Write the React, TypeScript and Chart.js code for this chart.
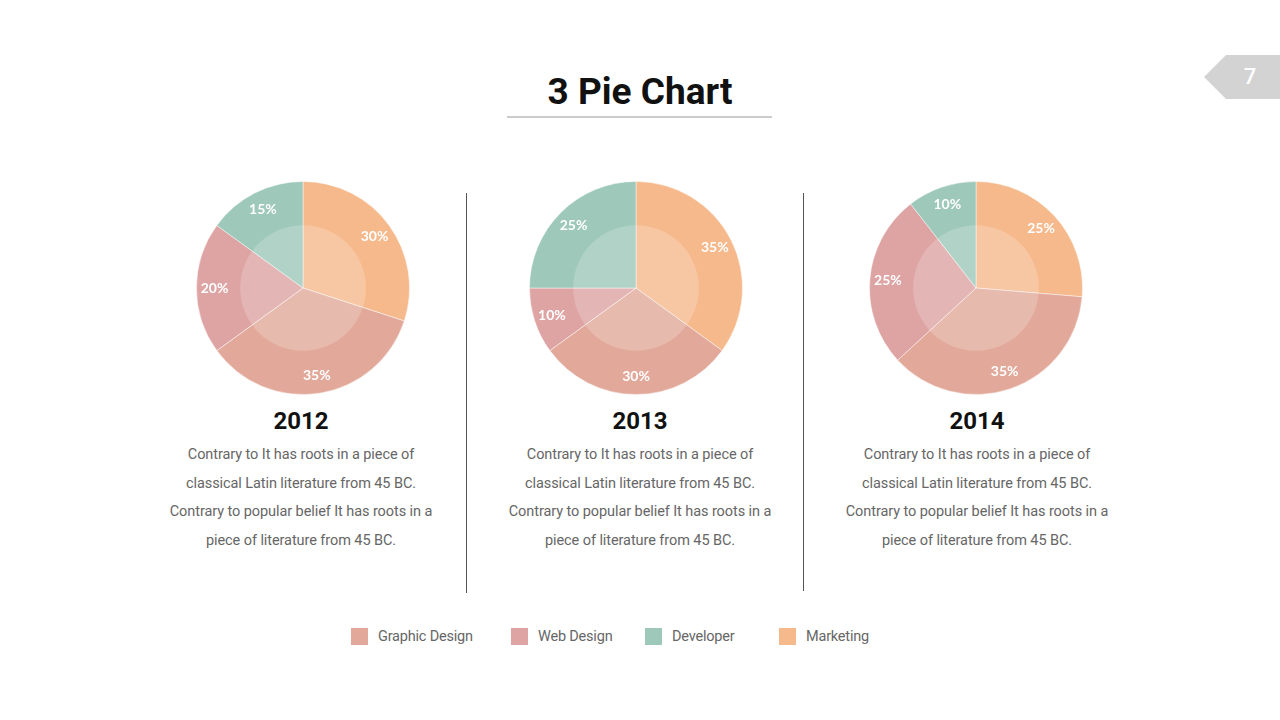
import React, { useEffect, useRef } from "react";
import { Chart, registerables } from "chart.js";

Chart.register(...registerables);

const categories = ["Marketing", "Graphic Design", "Web Design", "Developer"];
const colors = ["#F6B98C", "#E2A99A", "#DEA3A3", "#9EC8B9"];
const years = ["2012", "2013", "2014"];
const values2012 = [30, 35, 20, 15];
const values2013 = [35, 30, 10, 25];
const values2014 = [25, 35, 25, 10];
const seriesValues = [values2012, values2013, values2014];
const legendOrder = ["Graphic Design", "Web Design", "Developer", "Marketing"];
const descriptionLines = [
  "Contrary to It has roots in a piece of",
  "classical Latin literature from 45 BC.",
  "Contrary to popular belief It has roots in a",
  "piece of literature from 45 BC.",
];

const overlayPlugin = {
  id: "overlayAndLabels",
  afterDatasetsDraw(chart: any) {
    const ctx = chart.ctx;
    const meta = chart.getDatasetMeta(0);
    if (!meta.data.length) return;
    const arc0: any = meta.data[0];
    const cx = arc0.x;
    const cy = arc0.y;
    const r = arc0.outerRadius;
    ctx.save();
    ctx.beginPath();
    ctx.arc(cx, cy, r * 0.59, 0, Math.PI * 2);
    ctx.fillStyle = "rgba(255,255,255,0.2)";
    ctx.fill();
    ctx.fillStyle = "#ffffff";
    ctx.font = "bold 14px Lato, 'Open Sans', sans-serif";
    ctx.textAlign = "center";
    ctx.textBaseline = "middle";
    const data = chart.data.datasets[0].data;
    meta.data.forEach((arc: any, i: number) => {
      const mid = (arc.startAngle + arc.endAngle) / 2;
      const rr = r * 0.83;
      ctx.fillText(data[i] + "%", cx + Math.cos(mid) * rr, cy + Math.sin(mid) * rr);
    });
    ctx.restore();
  },
};

function PieChart({ values }: { values: number[] }) {
  const ref = useRef<HTMLCanvasElement>(null);
  useEffect(() => {
    if (!ref.current) return;
    const chart = new Chart(ref.current, {
      type: "pie",
      data: {
        labels: categories,
        datasets: [
          {
            data: values,
            backgroundColor: colors,
            borderColor: "rgba(255,255,255,0.45)",
            borderWidth: 1,
          },
        ],
      },
      options: {
        animation: false,
        responsive: false,
        maintainAspectRatio: false,
        layout: { padding: 0 },
        plugins: { legend: { display: false }, tooltip: { enabled: false } },
      },
      plugins: [overlayPlugin],
    });
    return () => chart.destroy();
  }, [values]);
  return <canvas ref={ref} width={214} height={214} style={{ width: 214, height: 214 }} />;
}

const pieCenters = [303, 635.5, 975.5];
const textCenters = [301, 640, 977];

export default function App() {
  return (
    <div
      style={{
        position: "absolute",
        left: 0,
        top: 0,
        width: 1280,
        height: 720,
        background: "#ffffff",
        overflow: "hidden",
        fontFamily: "Roboto, sans-serif",
      }}
    >
      {/* page tab */}
      <div
        style={{
          position: "absolute",
          left: 1204,
          top: 55,
          width: 76,
          height: 44,
          background: "#d3d3d3",
          clipPath: "polygon(22px 0, 100% 0, 100% 100%, 22px 100%, 0 50%)",
        }}
      />
      <div
        style={{
          position: "absolute",
          left: 1236,
          top: 63,
          width: 28,
          textAlign: "center",
          color: "#ffffff",
          fontSize: 22,
          fontWeight: 500,
          lineHeight: "28px",
        }}
      >
        7
      </div>
      {/* title */}
      <div
        style={{
          position: "absolute",
          left: 440,
          width: 400,
          top: 70,
          textAlign: "center",
          fontSize: 37,
          fontWeight: 700,
          color: "#111111",
          lineHeight: "44px",
        }}
      >
        3 Pie Chart
      </div>
      <div style={{ position: "absolute", left: 507, top: 116, width: 265, height: 2, background: "#cccccc" }} />
      {/* separators */}
      <div style={{ position: "absolute", left: 466, top: 193, width: 1, height: 400, background: "#555555" }} />
      <div style={{ position: "absolute", left: 803, top: 193, width: 1, height: 398, background: "#555555" }} />
      {years.map((y, i) => (
        <React.Fragment key={y}>
          <div style={{ position: "absolute", left: pieCenters[i] - 107, top: 181 }}>
            <PieChart values={seriesValues[i]} />
          </div>
          <div
            style={{
              position: "absolute",
              left: textCenters[i] - 150,
              width: 300,
              top: 406,
              textAlign: "center",
              fontSize: 24,
              fontWeight: 700,
              color: "#111111",
              lineHeight: "30px",
            }}
          >
            {y}
          </div>
          <div
            style={{
              position: "absolute",
              left: textCenters[i] - 160,
              width: 320,
              top: 441,
              textAlign: "center",
              fontSize: 14.5,
              color: "#666666",
              lineHeight: "28.7px",
              letterSpacing: "-0.08px",
            }}
          >
            {descriptionLines.map((l) => (
              <div key={l}>{l}</div>
            ))}
          </div>
        </React.Fragment>
      ))}
      {/* legend */}
      {legendOrder.map((name, i) => {
        const lefts = [351, 511, 645, 779];
        const c = colors[categories.indexOf(name)];
        return (
          <div key={name} style={{ position: "absolute", left: lefts[i], top: 627, display: "flex", alignItems: "center" }}>
            <div style={{ width: 17, height: 17, background: c }} />
            <div style={{ marginLeft: 10, fontSize: 14.5, color: "#666666", lineHeight: "18px", letterSpacing: "-0.2px", position: "relative", top: 1 }}>{name}</div>
          </div>
        );
      })}
    </div>
  );
}
